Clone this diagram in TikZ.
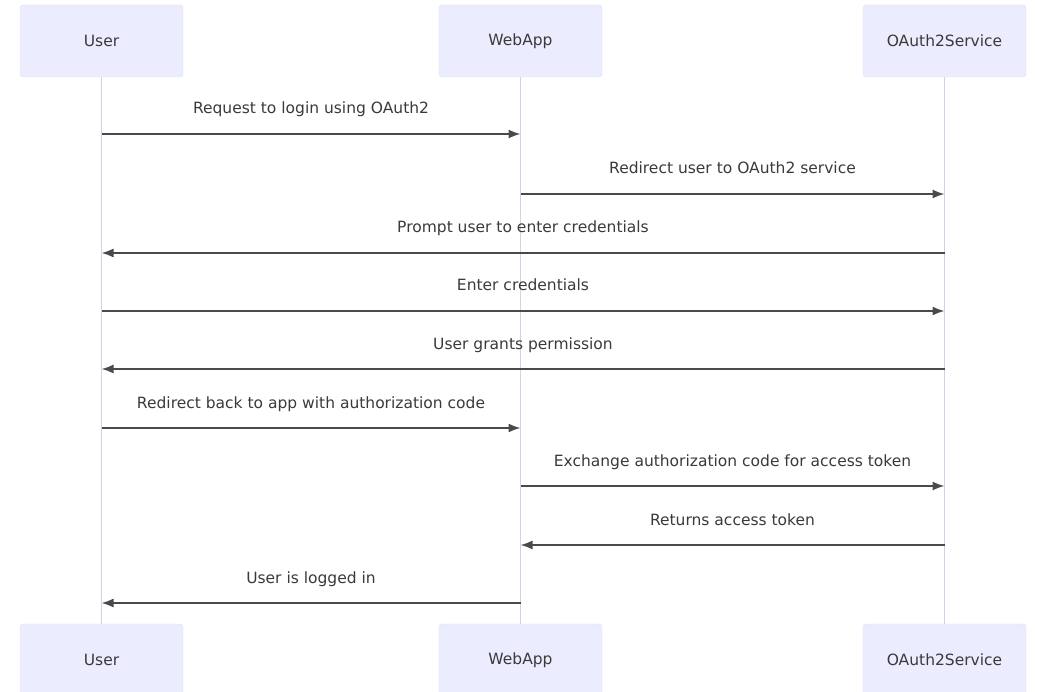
\documentclass[tikz,border=0pt]{standalone}
\usepackage{fontspec}
\setmainfont{DejaVu Sans}
\usetikzlibrary{arrows.meta}
\usepackage{xcolor}
\definecolor{boxfill}{HTML}{ECECFF}
\definecolor{boxline}{HTML}{E0E0F2}
\definecolor{lifeline}{HTML}{D2D2E6}
\definecolor{msgline}{HTML}{4A4A4A}
\definecolor{txtgray}{HTML}{3A3A3A}

\begin{document}
\begin{tikzpicture}[x=1pt, y=-1pt, font=\fontsize{15.5}{18}\selectfont,
  actor/.style={draw=boxline, fill=boxfill, rounded corners=3pt,
    minimum width=163pt, minimum height=72pt, text=txtgray},
  life/.style={draw=lifeline, line width=1pt},
  msg/.style={draw=msgline, line width=1.7pt, -{Latex[length=12pt, width=9pt]}},
  lbl/.style={text=txtgray, inner sep=0pt, anchor=base, yshift=20pt}]
  \useasboundingbox (0,0) rectangle (1038,692);
  % actors
  \node[actor] (userTop) at (101.5,41) {User};
  \node[actor] (appTop) at (520.5,41) {WebApp};
  \node[actor] (authTop) at (944.5,41) {OAuth2Service};
  \node[actor] (userBot) at (101.5,660) {User};
  \node[actor] (appBot) at (520.5,660) {WebApp};
  \node[actor] (authBot) at (944.5,660) {OAuth2Service};
  \draw[life] (userTop) -- (userBot);
  \draw[life] (appTop) -- (appBot);
  \draw[life] (authTop) -- (authBot);
  % message rows
  \coordinate (m1) at (0,134);
  \coordinate (m2) at (0,194);
  \coordinate (m3) at (0,253);
  \coordinate (m4) at (0,311);
  \coordinate (m5) at (0,369);
  \coordinate (m6) at (0,428);
  \coordinate (m7) at (0,486);
  \coordinate (m8) at (0,545);
  \coordinate (m9) at (0,603);
  \draw[msg] (userTop |- m1) -- node[lbl] {Request to login using OAuth2} (appTop |- m1);
  \draw[msg] (appTop |- m2) -- node[lbl] {Redirect user to OAuth2 service} (authTop |- m2);
  \draw[msg] (authTop |- m3) -- node[lbl] {Prompt user to enter credentials} (userTop |- m3);
  \draw[msg] (userTop |- m4) -- node[lbl] {Enter credentials} (authTop |- m4);
  \draw[msg] (authTop |- m5) -- node[lbl] {User grants permission} (userTop |- m5);
  \draw[msg] (userTop |- m6) -- node[lbl] {Redirect back to app with authorization code} (appTop |- m6);
  \draw[msg] (appTop |- m7) -- node[lbl] {Exchange authorization code for access token} (authTop |- m7);
  \draw[msg] (authTop |- m8) -- node[lbl] {Returns access token} (appTop |- m8);
  \draw[msg] (appTop |- m9) -- node[lbl] {User is logged in} (userTop |- m9);
\end{tikzpicture}
\end{document}
